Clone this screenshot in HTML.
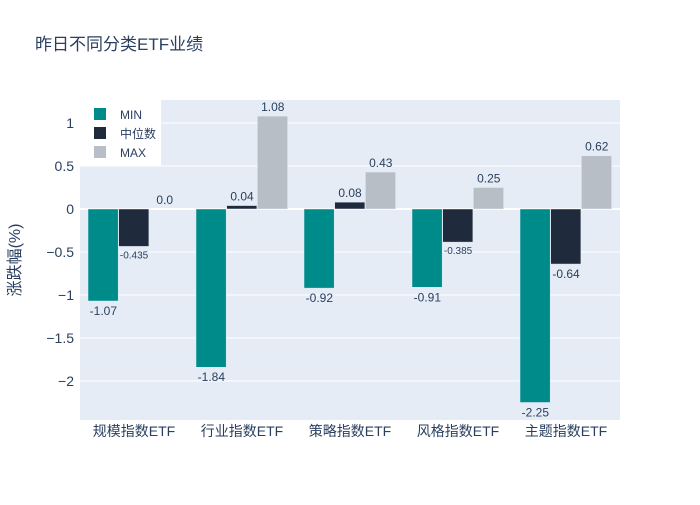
<!DOCTYPE html>
<html><head><meta charset="utf-8"><style>
body{margin:0;background:#fff}
svg text{font-family:"Liberation Sans","Noto Sans CJK SC",sans-serif}
</style></head><body>
<svg id="c" width="700" height="500" xmlns="http://www.w3.org/2000/svg">
<rect width="700" height="500" fill="#fff"/>
<text x="35" y="50" font-size="17" fill="#2a3f5f">昨日不同分类ETF业绩</text>
<rect x="80" y="100" width="540" height="320" fill="#e5ecf6"/>
<g id="grid"></g><g id="bars"></g><g id="labels"></g><g id="axes"></g>
<text transform="translate(20,260) rotate(-90)" text-anchor="middle" font-size="16" fill="#2a3f5f">涨跌幅(%)</text>
<g>
<rect x="80" y="100" width="81" height="66" fill="#fff"/>
<rect x="94" y="108" width="12" height="12" fill="#008b8b"/><text x="120" y="119" font-size="12" fill="#2a3f5f">MIN</text>
<rect x="94" y="127" width="12" height="12" fill="#1f2a3c"/><text x="120" y="138" font-size="12" fill="#2a3f5f">中位数</text>
<rect x="94" y="146" width="12" height="12" fill="#b8bec6"/><text x="120" y="157" font-size="12" fill="#2a3f5f">MAX</text>
</g>
</svg>
<script>
const categories=["规模指数ETF","行业指数ETF","策略指数ETF","风格指数ETF","主题指数ETF"];
const minVals=[-1.07,-1.84,-0.92,-0.91,-2.25];
const medVals=[-0.435,0.04,0.08,-0.385,-0.64];
const maxVals=[0.0,1.08,0.43,0.25,0.62];
const minLabels=["-1.07","-1.84","-0.92","-0.91","-2.25"];
const medLabels=["-0.435","0.04","0.08","-0.385","-0.64"];
const maxLabels=["0.0","1.08","0.43","0.25","0.62"];
const yTicks=[1,0.5,0,-0.5,-1,-1.5,-2];
const yTickLabels=["1","0.5","0","−0.5","−1","−1.5","−2"];
const NS="http://www.w3.org/2000/svg";
const y=v=>209-v*86;
const band=540/categories.length;
const x=i=>80+i*band;
function el(t,a,p){const e=document.createElementNS(NS,t);for(const k in a)e.setAttribute(k,a[k]);document.getElementById(p).appendChild(e);return e;}
yTicks.forEach((t,i)=>{
 const g=el('line',{x1:80,x2:620,y1:y(t),y2:y(t),stroke:'#fff','stroke-width':t===0?2:1},'grid');
 
 
 const l=el('text',{x:74,y:y(t)+5,'text-anchor':'end','font-size':14,fill:'#2a3f5f'},'axes');
 l.textContent=yTickLabels[i];
 
 
});
const series=[[minVals,minLabels,'#008b8b','min'],[medVals,medLabels,'#1f2a3c','median'],[maxVals,maxLabels,'#b8bec6','max']];
const bw=30.7;
categories.forEach((c,i)=>{
 const cx=x(i)+band/2;
 const t=el('text',{x:cx,y:436,'text-anchor':'middle','font-size':14,fill:'#2a3f5f'},'axes');
 t.textContent=c;
 
 
 series.forEach((s,j)=>{
  const v=s[0][i];const bx=cx-46+j*bw;
  const top=Math.min(y(v),y(0)),h=Math.abs(y(v)-y(0));
  const r=el('rect',{x:bx,y:top,width:bw-0.5,height:Math.max(h,0),fill:s[2],stroke:'#e5ecf6','stroke-width':0.5},'bars');
  
  
  const small=s[1][i].length>5;
  const ly=v>=0?y(v)-5:y(v)+(small?12:14);
  const lb=el('text',{x:bx+bw/2,y:ly,'text-anchor':'middle','font-size':small?10:12,fill:'#2a3f5f'},'labels');
  lb.textContent=s[1][i];
  
  
 });
});
</script>
</body></html>
